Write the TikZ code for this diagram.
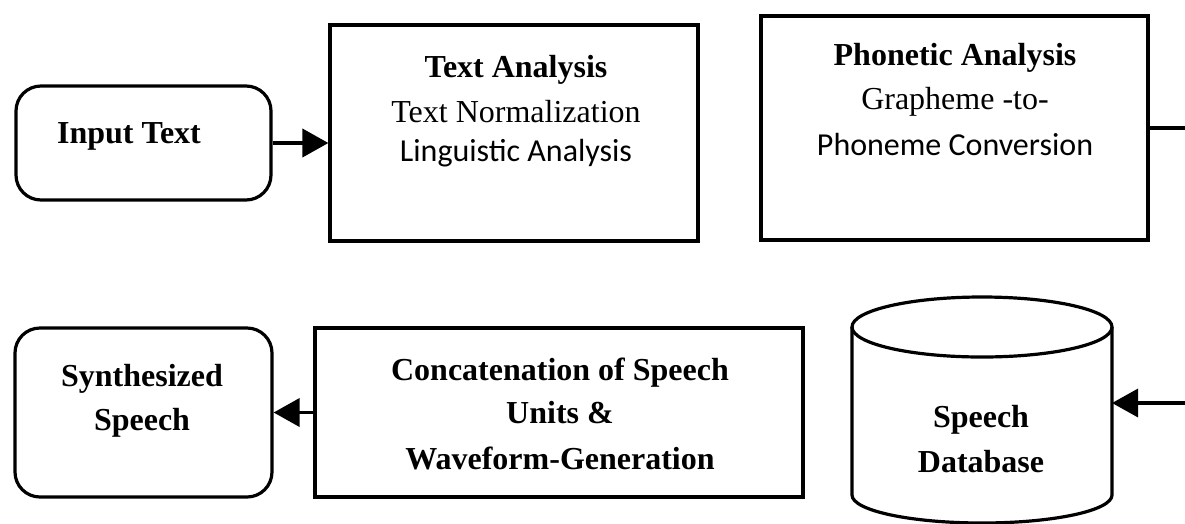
\documentclass[tikz,border=0pt]{standalone}
\usepackage{fontspec}
\setmainfont{Liberation Serif}
\newfontfamily\calibri{Carlito}
\usetikzlibrary{arrows.meta}

\begin{document}
\begin{tikzpicture}[x=1pt, y=-1pt,
  stepbox/.style={draw, line width=3.2pt, inner sep=0pt, fill=white},
  roundbox/.style={stepbox, rounded corners=25pt},
  txt/.style={anchor=base, inner sep=0pt, font=\fontsize{32}{38}\selectfont},
  ttl/.style={txt, font=\fontsize{32}{38}\selectfont\bfseries},
  cal/.style={txt, font=\fontsize{32}{38}\selectfont\calibri},
  flow/.style={line width=3.8pt, -{Triangle[length=26pt,width=28pt]}},
  plain/.style={line width=3.2pt}
]
% frame of the page
\useasboundingbox (0,0) rectangle (1185,523);
\clip (0,0) rectangle (1185,523);
\fill[white] (0,0) rectangle (1185,523);

% upper row
\node[roundbox, minimum width=255pt, minimum height=114pt] (in) at (143.5,143) {};
\node[stepbox, minimum width=368pt, minimum height=216pt] (ta) at (514,133) {};
\node[stepbox, minimum width=387pt, minimum height=224pt] (ph) at (954.5,128) {};

\node[ttl] (inT) at (129,143) {Input Text};

\node[ttl] (ta1) at (516,77) {Text Analysis};
\node[txt] (ta2) at (516,122) {Text Normalization};
\node[cal] (ta3) at (516,161) {Linguistic Analysis};

\node[ttl] (ph1) at (955,65) {Phonetic Analysis};
\node[txt] (ph2) at (955,109) {Grapheme -to-};
\node[cal] (ph3) at (955,155) {Phoneme Conversion};

% lower row
\node[roundbox, minimum width=257pt, minimum height=169pt] (ss) at (143.5,412.5) {};
\node[stepbox, minimum width=488pt, minimum height=169pt] (cc) at (559,412.5) {};

\node[ttl] (ss1) at (142,386) {Synthesized};
\node[ttl] (ss2) at (142,430) {Speech};

\node[ttl] (cc1) at (560,380) {Concatenation of Speech};
\node[ttl] (cc2) at (560,423) {Units \&};
\node[ttl] (cc3) at (560,469) {Waveform-Generation};

% speech database drawn as a cylinder
\node[inner sep=0pt, minimum width=260pt, minimum height=226pt] (db) at (982,410) {};
\filldraw[fill=white, line width=3.2pt]
  (852,327) -- (852,495) arc[start angle=180, end angle=0, x radius=130, y radius=28]
  -- (1112,327);
\draw[line width=3.2pt] (982,327) ellipse [x radius=130, y radius=30];
\coordinate (dbin) at (1112,403);
\node[ttl] (db1) at (981,427) {Speech};
\node[ttl] (db2) at (981,472) {Database};

% connectors
\coordinate (turn) at (1200,128);
\draw[flow] (in.east) -- (in.east -| ta.west);
\draw[plain] (ph.east) -- (turn);
\draw[flow, line width=3.4pt] (turn) |- (dbin);
\draw[flow] (cc.west) -- (ss.east);
\end{tikzpicture}
\end{document}
